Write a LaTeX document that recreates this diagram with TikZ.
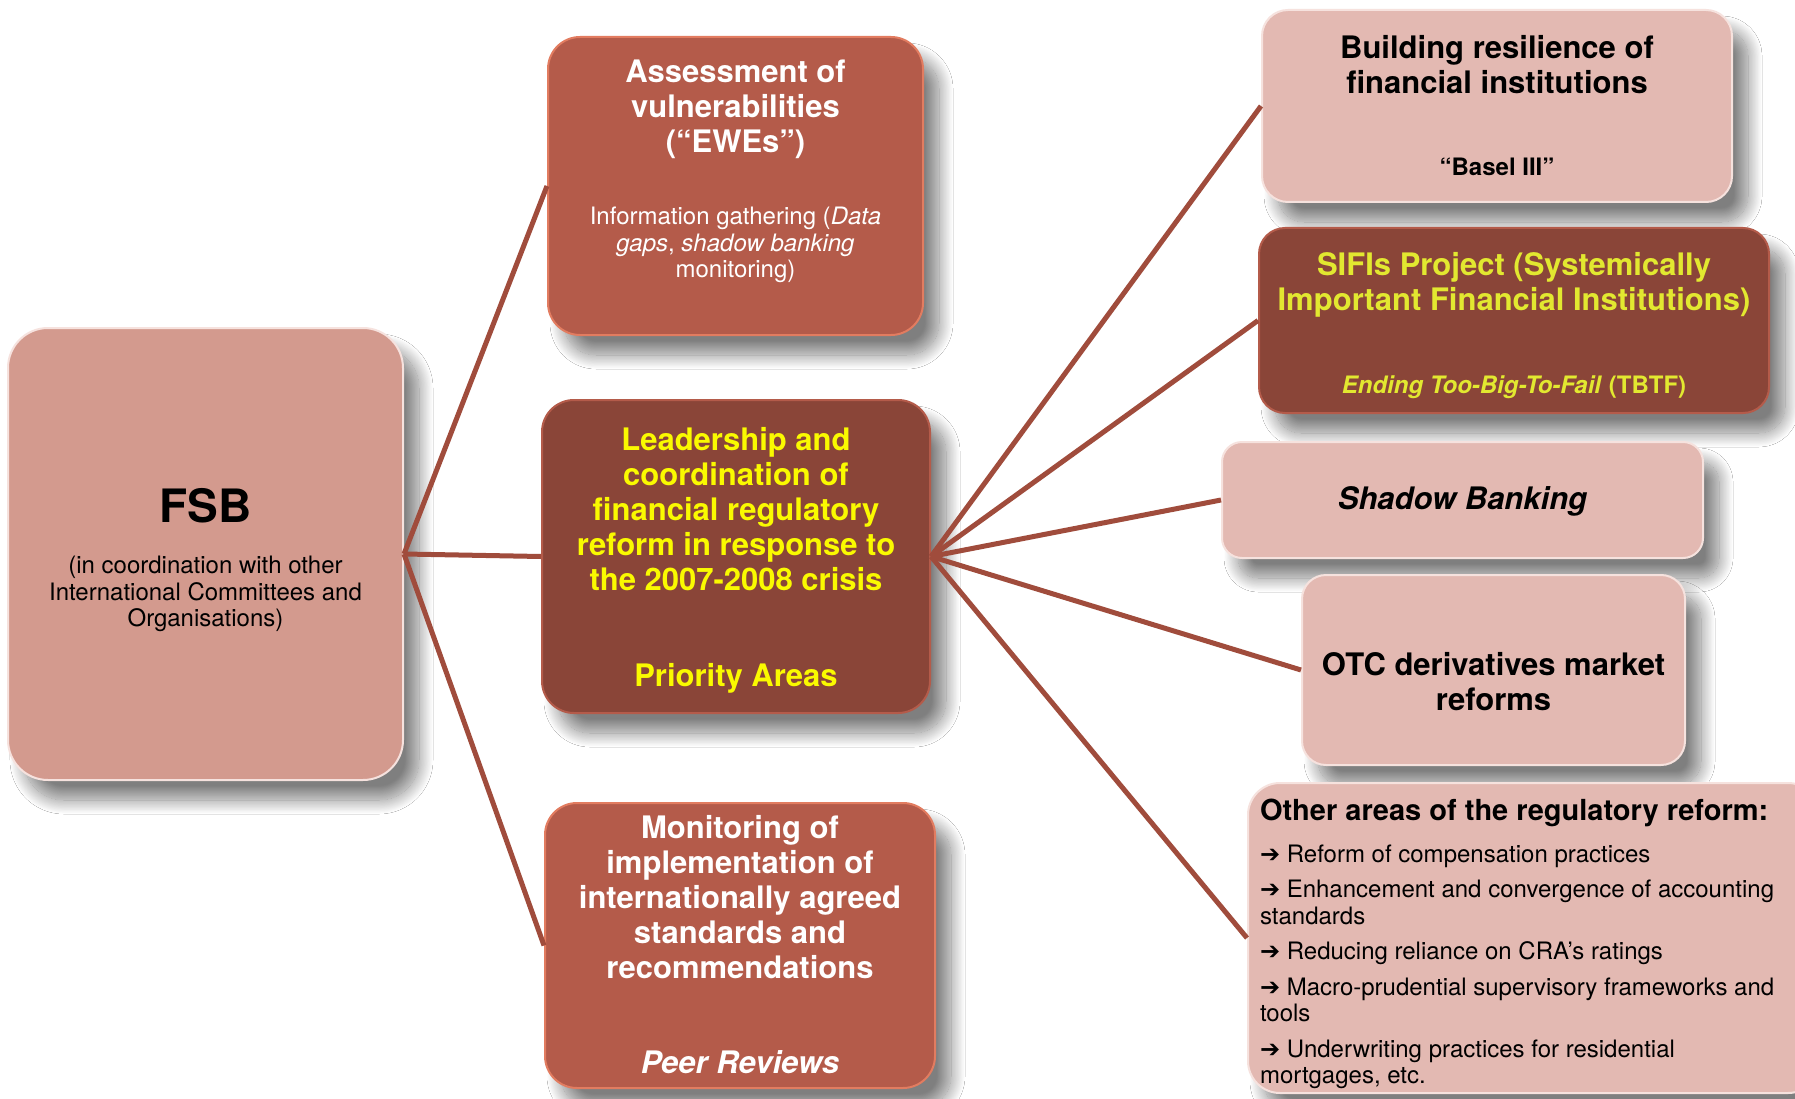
\documentclass[tikz,border=0pt]{standalone}
\usepackage{fontspec}
\setmainfont{TeX Gyre Heros}
\newfontfamily\arrowfont{DejaVu Sans}
\usetikzlibrary{shadows.blur}

\definecolor{fsbpink}{RGB}{211,154,142}
\definecolor{rust}{RGB}{180,91,74}
\definecolor{maroon}{RGB}{138,69,56}
\definecolor{blush}{RGB}{227,185,178}
\definecolor{linkred}{RGB}{160,76,60}
\definecolor{leadyellow}{RGB}{250,250,0}
\definecolor{sifiyellow}{RGB}{226,232,48}
\definecolor{glowrust}{RGB}{226,124,96}
\definecolor{glowpink}{RGB}{246,226,222}

\newcommand{\headfont}{\fontsize{31}{35}\selectfont\bfseries}
\newcommand{\notefont}{\fontsize{24}{26.5}\selectfont\mdseries\upshape}
\newcommand{\boxtext}[4]{\begin{minipage}[c][#2][t]{#1}\centering\vspace*{#3}#4\end{minipage}}
\newcommand{\arr}{{\arrowfont\bfseries ➔}}

\begin{document}
\begin{tikzpicture}[x = 1pt, y = -1pt]
\tikzstyle{BoxStyle}=[rectangle,
                      inner sep = 0pt,
                      draw = glowpink,
                      line width = 2pt,
                      blur shadow = {shadow xshift = 16pt, shadow yshift = -20pt,
                                     shadow blur radius = 14pt, shadow blur steps = 24,
                                     shadow opacity = 50}]
\tikzstyle{LinkStyle}=[draw = linkred, line width = 5pt]
\useasboundingbox (0,0) rectangle (1795,1099);
\fill[white] (0,0) rectangle (1795,1099);

\node[BoxStyle, fill = fsbpink, rounded corners = 40pt] (fsb) at (205.5,554)
  {\boxtext{395pt}{452pt}{160pt}{{\fontsize{46}{50}\selectfont\bfseries FSB}\par\vspace{25pt}%
   \notefont (in coordination with other\\International Committees and\\Organisations)}};
\node[BoxStyle, fill = rust, draw = glowrust, rounded corners = 32pt, text = white] (assess) at (735.5,186)
  {\boxtext{375pt}{298pt}{23pt}{\headfont Assessment of\\vulnerabilities\\(“EWEs”)\par\vspace{45.5pt}%
   \notefont Information gathering (\textit{Data}\\\textit{gaps}, \textit{shadow banking}\\monitoring)}};
\node[BoxStyle, fill = maroon, draw = rust, rounded corners = 32pt, text = leadyellow] (lead) at (736,556.5)
  {\boxtext{388pt}{313pt}{27.5pt}{\headfont Leadership and\\coordination of\\financial regulatory\\reform in response to\\the 2007-2008 crisis\par\vspace{61pt}%
   Priority Areas}};
\node[BoxStyle, fill = rust, draw = glowrust, rounded corners = 32pt, text = white] (monitor) at (740,945.5)
  {\boxtext{390pt}{285pt}{12pt}{\headfont Monitoring of\\implementation of\\internationally agreed\\standards and\\recommendations\par\vspace{60pt}%
   \itshape Peer Reviews}};

\node[BoxStyle, fill = blush, rounded corners = 26pt] (build) at (1497,106)
  {\boxtext{470pt}{192pt}{25pt}{\headfont Building resilience of\\financial institutions\par\vspace{55.5pt}%
   \notefont\bfseries “Basel III”}};
\node[BoxStyle, fill = maroon, draw = rust, rounded corners = 26pt, text = sifiyellow] (sifi) at (1514,320.5)
  {\boxtext{510pt}{185pt}{24pt}{\headfont SIFIs Project (Systemically\\Important Financial Institutions)\par\vspace{56.5pt}%
   \notefont\bfseries\textit{Ending Too-Big-To-Fail} (TBTF)}};
\node[BoxStyle, fill = blush, rounded corners = 20pt] (shadow) at (1462.5,500)
  {\boxtext{481pt}{116pt}{45pt}{\headfont\itshape Shadow Banking}};
\node[BoxStyle, fill = blush, rounded corners = 24pt] (otc) at (1493.5,670)
  {\boxtext{383pt}{190pt}{77pt}{\headfont OTC derivatives market\\reforms}};
\node[BoxStyle, fill = blush, rounded corners = 32pt, inner xsep = 12pt] (other) at (1534,938)
  {\begin{minipage}[c][310pt][t]{548pt}\vspace*{16pt}%
   {\fontsize{29}{33}\selectfont\bfseries Other areas of the regulatory reform:}\par\vspace{15.5pt}%
   \notefont\arr\ Reform of compensation practices\par\vspace{9pt}%
   \arr\ Enhancement and convergence of accounting\\standards\par\vspace{9pt}%
   \arr\ Reducing reliance on CRA’s ratings\par\vspace{9pt}%
   \arr\ Macro-prudential supervisory frameworks and\\tools\par\vspace{9pt}%
   \arr\ Underwriting practices for residential\\mortgages, etc.\end{minipage}};

\draw[LinkStyle] (fsb.east) -- (assess.west);
\draw[LinkStyle] (fsb.east) -- (lead.west);
\draw[LinkStyle] (fsb.east) -- (monitor.west);
\draw[LinkStyle] (lead.east) -- (build.west);
\draw[LinkStyle] (lead.east) -- (sifi.west);
\draw[LinkStyle] (lead.east) -- (shadow.west);
\draw[LinkStyle] (lead.east) -- (otc.west);
\draw[LinkStyle] (lead.east) -- (other.west);
\end{tikzpicture}
\end{document}
